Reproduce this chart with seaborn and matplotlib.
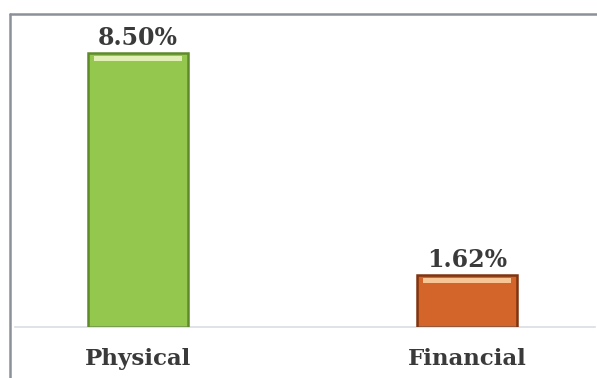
import matplotlib
matplotlib.use("Agg")
import matplotlib.pyplot as plt
from matplotlib.patches import Rectangle
from matplotlib.lines import Line2D
import seaborn as sns
import pandas as pd

categories = ["Physical", "Financial"]
shares = [8.50, 1.62]
value_labels = ["8.50%", "1.62%"]
bar_colors = ["#93C74E", "#D3642A"]
edge_colors = ["#5E8A2A", "#7E3410"]
shine_colors = ["#F2F8C8", "#FFD8A8"]

sns.set_theme(style="white")
plt.rcParams["font.family"] = ["DejaVu Serif"]

df = pd.DataFrame({"category": categories, "share": shares})

fig = plt.figure(figsize=(5.97, 3.78), dpi=100)
fig.patch.set_facecolor("white")
ax = fig.add_axes([15 / 597, 51 / 378, 580 / 597, 312 / 378])

sns.barplot(data=df, x="category", y="share", hue="category",
            palette=bar_colors, width=0.305, legend=False, ax=ax,
            edgecolor="none", saturation=1)

ax.set_xlim(-0.374, 1.389)
ax.set_ylim(0, 9.68)

# bevelled look: dark rim, bright strip along the top
inv = ax.transData.inverted()
px6 = abs(inv.transform((0, 6))[1] - inv.transform((0, 0))[1])
for patch, ec, sc in zip(ax.patches, edge_colors, shine_colors):
    x0, y0 = patch.get_x(), patch.get_y()
    w, h = patch.get_width(), patch.get_height()
    ax.add_patch(Rectangle((x0, y0), w, h, fill=False, edgecolor=ec,
                           linewidth=1.8, zorder=3))
    ax.add_patch(Rectangle((x0 + w * 0.06, y0 + h - px6 * 1.4), w * 0.88, px6 * 0.9,
                           facecolor=sc, edgecolor="none", alpha=0.85, zorder=3))

for i, (v, lab) in enumerate(zip(shares, value_labels)):
    ax.annotate(lab, (i, v), xytext=(0, 2), textcoords="offset points",
                ha="center", va="bottom", fontsize=17, fontweight="bold",
                color="#3a3a3a")

ax.set_xlabel("")
ax.set_ylabel("")
ax.set_yticks([])
ax.set_xticks(range(len(categories)))
ax.set_xticklabels(categories, fontsize=16.5, fontweight="bold", color="#3a3a3a")
ax.tick_params(axis="x", length=0, pad=15)
for side in ["top", "right", "left"]:
    ax.spines[side].set_visible(False)
ax.spines["bottom"].set_color("#D9DEE3")
ax.spines["bottom"].set_linewidth(1.2)

# outer chart frame (top and left edges)
fig.add_artist(Line2D([10 / 597, 1.0], [1 - 14 / 378, 1 - 14 / 378],
                      transform=fig.transFigure, color="#8C9098", linewidth=1.8))
fig.add_artist(Line2D([10 / 597, 10 / 597], [0, 1 - 14 / 378],
                      transform=fig.transFigure, color="#8C9098", linewidth=1.8))

fig.savefig("out.png", dpi=100)
